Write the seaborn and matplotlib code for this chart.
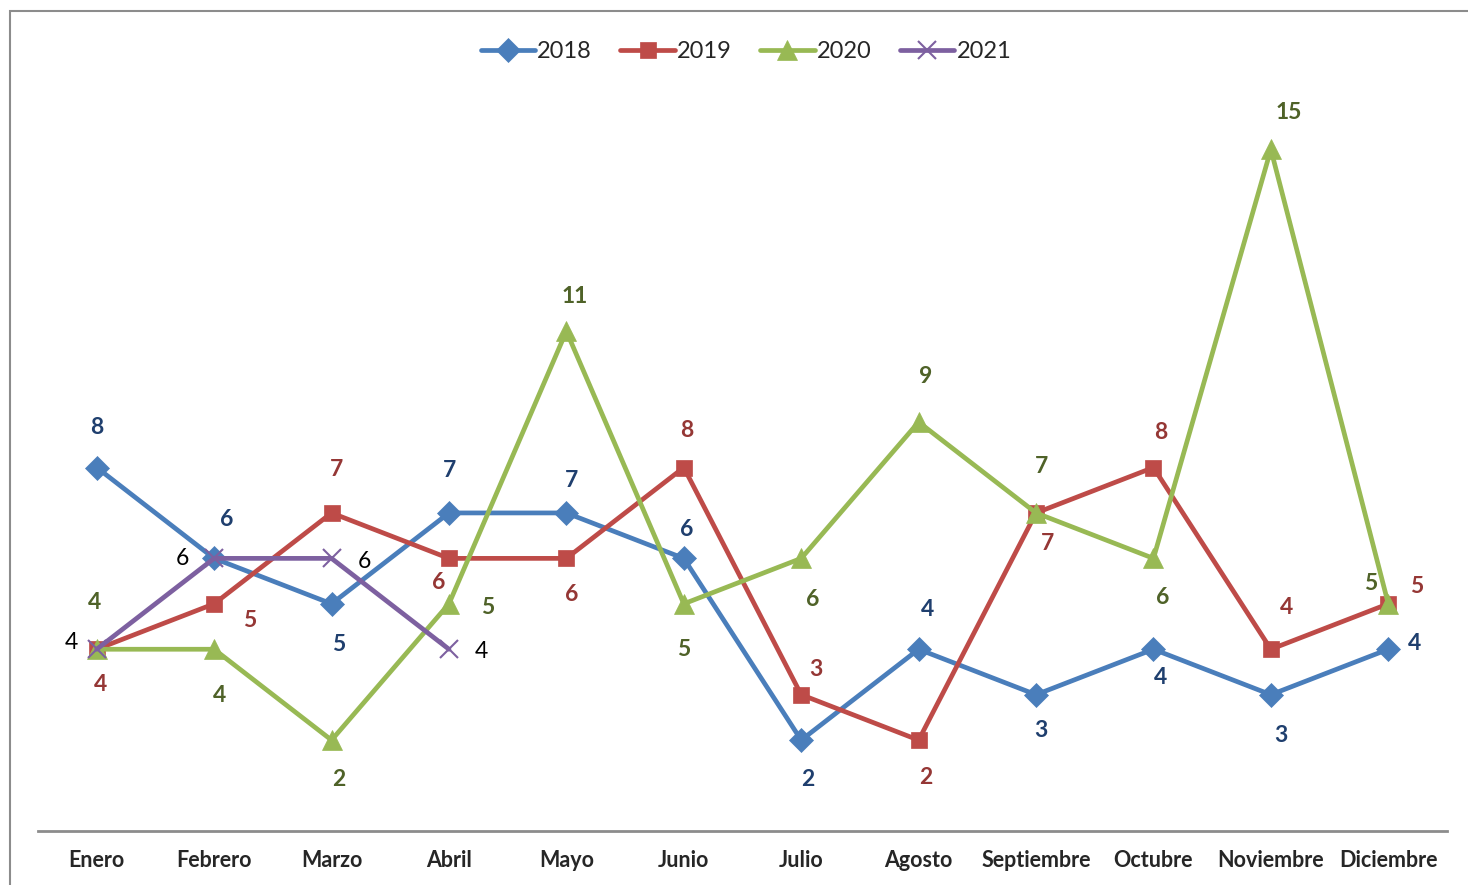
import matplotlib
matplotlib.use("Agg")
import matplotlib.pyplot as plt
import matplotlib.patches as mpatches
import seaborn as sns
import pandas as pd

# --- data ---
months = ["Enero", "Febrero", "Marzo", "Abril", "Mayo", "Junio", "Julio",
          "Agosto", "Septiembre", "Octubre", "Noviembre", "Diciembre"]
v2018 = [8, 6, 5, 7, 7, 6, 2, 4, 3, 4, 3, 4]
v2019 = [4, 5, 7, 6, 6, 8, 3, 2, 7, 8, 4, 5]
v2020 = [4, 4, 2, 5, 11, 5, 6, 9, 7, 6, 15, 5]
v2021 = [4, 6, 6, 4]

# --- styling (label offsets in pixels, dx / dy) ---
off2018 = [(0, 40), (13, 39), (7, -41), (1, 42), (5, 32), (3, 29),
           (7, -39), (9, 40), (5, -36), (7, -28), (10, -41), (26, 6)]
off2019 = [(4, -35), (36, -17), (5, 43), (-10, -24), (5, -36), (3, 37),
           (15, 25), (7, -37), (11, -31), (7, 35), (16, 42), (28, 17)]
off2020 = [(-2, 47), (5, -46), (7, -39), (39, -4), (8, 35), (0, -46),
           (11, -41), (7, 46), (5, 46), (9, -39), (18, 37), (-18, 20)]
off2021 = [(-25, 7), (-32, 0), (33, -3), (32, -2)]

series = [
    ("2018", v2018, off2018, "#4A7EBB", "D", 12, "#1F3F6E", "bold"),
    ("2019", v2019, off2019, "#BE4B48", "s", 12, "#953735", "bold"),
    ("2020", v2020, off2020, "#98B954", "^", 14, "#4F6228", "bold"),
    ("2021", v2021, off2021, "#7D60A0", "x", 13, "black", "normal"),
]

sns.set_style("white")
plt.rcParams["font.family"] = ["Lato", "DejaVu Sans"]

fig = plt.figure(figsize=(14.68, 8.85), dpi=100)
ax = fig.add_axes([38 / 1468, 1 - 831 / 885, 1409 / 1468, 727 / 885])

for name, vals, offs, col, mk, ms, lcol, lw in series:
    df = pd.DataFrame({"x": range(len(vals)), "y": vals})
    sns.lineplot(data=df, x="x", y="y", ax=ax, color=col, linewidth=3.4,
                 marker=mk, markersize=ms, markeredgecolor=col,
                 markeredgewidth=1.5 if mk == "x" else 0.5, label=name)

for name, vals, offs, col, mk, ms, lcol, lw in series:
    for i, v in enumerate(vals):
        ax.annotate(str(v), (i, v), xytext=offs[i], textcoords="offset pixels",
                    ha="center", va="center", fontsize=16.5, color=lcol,
                    fontweight=lw)

ax.set_xlim(-0.5, 11.5)
ax.set_ylim(0, 16)
ax.set_xticks(range(len(months)))
ax.set_xticklabels(months, fontsize=15.5, fontweight="bold")
ax.tick_params(axis="x", length=0, pad=14)
ax.set_yticks([])
ax.set_xlabel("")
ax.set_ylabel("")
for s in ["top", "left", "right"]:
    ax.spines[s].set_visible(False)
ax.spines["bottom"].set_color("#8C8C8C")
ax.spines["bottom"].set_linewidth(2)

handles, labels = ax.get_legend_handles_labels()
ax.get_legend().remove()
fig.legend(handles, labels, loc="center", ncol=4, frameon=False,
           bbox_to_anchor=(746 / 1468, 1 - 52 / 885), fontsize=17,
           handlelength=2.3, columnspacing=1.2, handletextpad=0.1)

frame = mpatches.Rectangle((10 / 1468, -0.5), 2, 0.5 + 1 - 11 / 885,
                           transform=fig.transFigure, fill=False,
                           edgecolor="#8C8C8C", linewidth=1.5, clip_on=False)
fig.add_artist(frame)

fig.savefig("out.png", dpi=100)
